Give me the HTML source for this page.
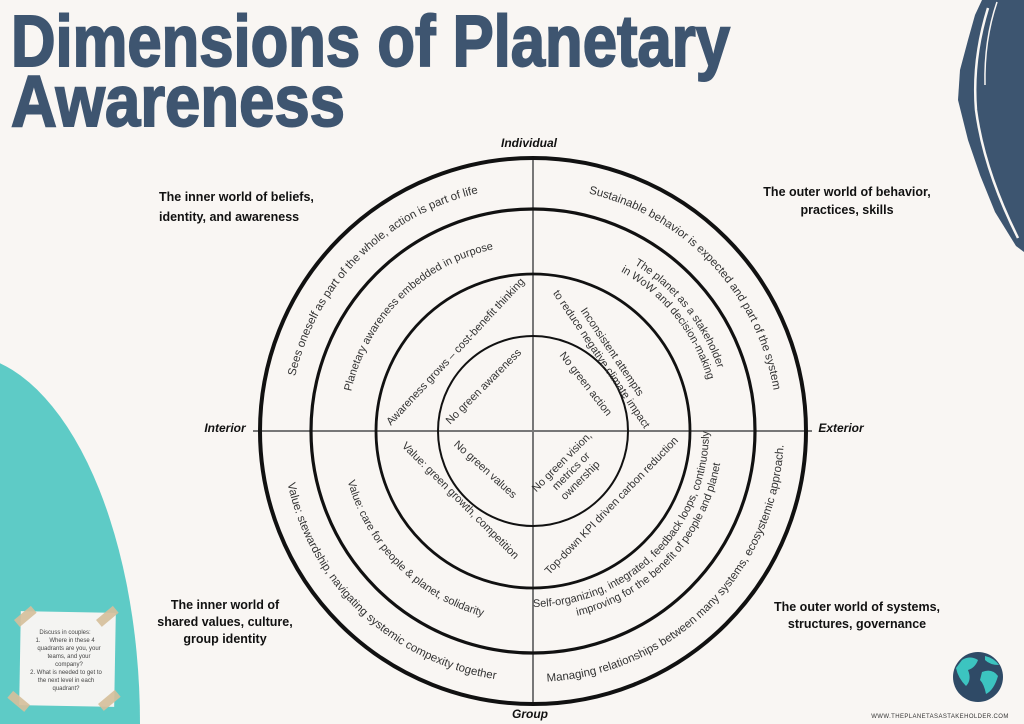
<!DOCTYPE html>
<html><head><meta charset="utf-8"><style>
html,body{margin:0;padding:0;background:#f9f6f3;width:1024px;height:724px;overflow:hidden;}
svg{display:block;}
</style></head><body>
<svg width="1024" height="724" viewBox="0 0 1024 724" xmlns="http://www.w3.org/2000/svg" font-family="Liberation Sans, sans-serif">
<rect width="1024" height="724" fill="#f9f6f3"/>
<!-- teal blob -->
<ellipse cx="-40" cy="724" rx="180" ry="370" fill="#5ecbc6"/>
<!-- top right navy brush -->
<polygon points="982,0 1024,0 1024,252 1016,246 995,212 980,175 968,140 958,100 960,70 968,40 975,15" fill="#3d5570"/>
<path d="M988,8 Q972,60 976,110 Q984,170 1018,238" stroke="#f9f6f3" stroke-width="2.5" fill="none"/>
<path d="M997,2 Q984,40 985,85" stroke="#f9f6f3" stroke-width="1.5" fill="none"/>
<!-- title -->
<g fill="#3e5570" stroke="#3e5570" stroke-width="1.6" font-weight="bold" font-size="60" transform="scale(1,1.2)">
<text x="11" y="55" textLength="719" lengthAdjust="spacingAndGlyphs">Dimensions of Planetary</text>
<text x="11" y="105" textLength="334" lengthAdjust="spacingAndGlyphs">Awareness</text>
</g>
<!-- axes -->
<line x1="253" y1="431" x2="812" y2="431" stroke="#777" stroke-width="2"/>
<line x1="533" y1="156" x2="533" y2="706" stroke="#777" stroke-width="2"/>
<!-- circles -->
<g fill="none" stroke="#111">
<circle cx="533" cy="431" r="273" stroke-width="4"/>
<circle cx="533" cy="431" r="222" stroke-width="3.2"/>
<circle cx="533" cy="431" r="157" stroke-width="2.8"/>
<circle cx="533" cy="431" r="95" stroke-width="2"/>
</g>
<defs>
<path id="pTL" d="M289,431 A244,244 0 0 1 533,187"/>
<path id="pTR" d="M533,187 A244,244 0 0 1 777,431"/>
<path id="pBL" d="M282,431 A251,251 0 0 0 533,682"/>
<path id="pBR" d="M533,682 A251,251 0 0 0 784,431"/>
<path id="q2TL" d="M347,431 A186,186 0 0 1 533,245"/>
<path id="q2TR1" d="M533,236 A195,195 0 0 1 728,431"/>
<path id="q2TR2" d="M533,249 A182,182 0 0 1 715,431"/>
<path id="q2BL" d="M341,431 A192,192 0 0 0 533,623"/>
<path id="q2BR1" d="M533,607 A176,176 0 0 0 709,431"/>
<path id="q2BR2" d="M533,621 A190,190 0 0 0 723,431"/>
</defs>
<g fill="#333" font-size="11.5">
<text><textPath href="#pTL" startOffset="50%" text-anchor="middle">Sees oneself as part of the whole, action is part of life</textPath></text>
<text><textPath href="#pTR" startOffset="52%" text-anchor="middle">Sustainable  behavior is expected and part of the system</textPath></text>
<text><textPath href="#pBL" startOffset="52%" text-anchor="middle">Value: stewardship, navigating systemic compexity together</textPath></text>
<text><textPath href="#pBR" startOffset="50%" text-anchor="middle">Managing relationships between many systems, ecosystemic approach.</textPath></text>
</g>
<g fill="#333" font-size="11">
<text><textPath href="#q2TL" startOffset="50%" text-anchor="middle">Planetary awareness embedded in purpose</textPath></text>
<text><textPath href="#q2TR1" startOffset="57%" text-anchor="middle">The planet as a stakeholder</textPath></text>
<text><textPath href="#q2TR2" startOffset="57%" text-anchor="middle">in WoW and decision-making</textPath></text>
<text><textPath href="#q2BL" startOffset="50%" text-anchor="middle">Value: care for people &amp; planet, solidarity</textPath></text>
<text><textPath href="#q2BR1" startOffset="50%" text-anchor="middle">Self-organizing, integrated, feedback loops, continuously</textPath></text>
<text><textPath href="#q2BR2" startOffset="52%" text-anchor="middle">improving for the benefit of people and planet</textPath></text>
</g>
<g fill="#333" font-size="11" text-anchor="middle">
<text transform="translate(458,354) rotate(-47)">Awareness grows – cost-benefit thinking</text>
<g transform="translate(606,356) rotate(56)"><text y="-4">Inconsistent attempts</text><text y="9">to reduce negative climate impact</text></g>
<text transform="translate(486,389) rotate(-45)">No green awareness</text>
<text transform="translate(583,386) rotate(52)">No green action</text>
<text transform="translate(483,472) rotate(42)">No green values</text>
<g transform="translate(570,470) rotate(-45)"><text y="-8">No green vision,</text><text y="5">metrics or</text><text y="18">ownership</text></g>
<text transform="translate(458,503) rotate(45)">Value: green growth, competition</text>
<text transform="translate(614,508) rotate(-46)">Top-down KPI driven carbon reduction</text>
</g>
<!-- axis labels -->
<g fill="#111" font-size="12" font-weight="bold" font-style="italic" text-anchor="middle">
<text x="529" y="147">Individual</text>
<text x="225" y="432">Interior</text>
<text x="841" y="432">Exterior</text>
<text x="530" y="718">Group</text>
</g>
<!-- quadrant labels -->
<g fill="#111" font-size="12.5" font-weight="bold">
<text x="159" y="201">The inner world of beliefs,</text>
<text x="159" y="221">identity, and awareness</text>
<g text-anchor="middle">
<text x="847" y="196">The outer world of behavior,</text>
<text x="847" y="214">practices, skills</text>
<text x="225" y="609">The inner world of</text>
<text x="225" y="626">shared values, culture,</text>
<text x="225" y="643">group identity</text>
<text x="857" y="611">The outer world of systems,</text>
<text x="857" y="628">structures, governance</text>
</g>
</g>
<!-- note -->
<rect x="20" y="612" width="95" height="94" fill="#f4f4f2" transform="rotate(1 67 659)"/>
<g fill="#d6bf9b" opacity="0.9">
<rect x="14" y="612" width="22" height="9" transform="rotate(-40 25 616)"/>
<rect x="96" y="612" width="22" height="9" transform="rotate(-40 107 616)"/>
<rect x="8" y="697" width="22" height="9" transform="rotate(40 19 701)"/>
<rect x="98" y="696" width="22" height="9" transform="rotate(-40 109 700)"/>
</g>
<g fill="#444" font-size="6" text-anchor="middle">
<text x="65" y="634">Discuss in couples:</text>
<text x="69" y="642"><tspan x="38">1.</tspan><tspan x="72">Where in these 4</tspan></text>
<text x="69" y="650">quadrants are you, your</text>
<text x="69" y="658">teams, and your</text>
<text x="69" y="666">company?</text>
<text x="66" y="674">2. What is needed to get to</text>
<text x="66" y="682">the next level in each</text>
<text x="66" y="690">quadrant?</text>
</g>
<!-- globe -->
<circle cx="978" cy="677" r="25" fill="#2f4a66"/>
<path d="M962,660 Q970,655 978,660 Q975,668 968,670 Q972,680 966,686 Q958,678 956,668 Z" fill="#3cc4c0"/>
<path d="M982,672 Q992,668 998,676 Q994,690 986,694 Q984,684 980,680 Z" fill="#3cc4c0"/>
<path d="M985,656 Q994,658 999,665 Q990,665 985,660 Z" fill="#3cc4c0"/>
<text x="940" y="718" font-size="6" fill="#333" text-anchor="middle" letter-spacing="0.4">WWW.THEPLANETASASTAKEHOLDER.COM</text>
</svg>
</body></html>
